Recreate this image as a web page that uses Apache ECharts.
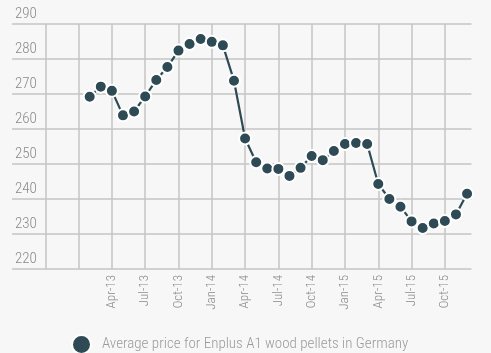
<!DOCTYPE html>
<html>
<head>
<meta charset="utf-8">
<script src="https://cdn.jsdelivr.net/npm/echarts@6/dist/echarts.min.js"></script>
<style>
  html, body { margin: 0; padding: 0; background: #f7f7f7; }
  #chart { width: 491px; height: 353px; }
</style>
</head>
<body>
<div id="chart"></div>
<script>
// monthly points, Feb-13 .. Dec-15
const months = [
  "Feb-13", "Mar-13", "Apr-13", "May-13", "Jun-13", "Jul-13", "Aug-13", "Sep-13", "Oct-13", "Nov-13", "Dec-13",
  "Jan-14", "Feb-14", "Mar-14", "Apr-14", "May-14", "Jun-14", "Jul-14", "Aug-14", "Sep-14", "Oct-14", "Nov-14", "Dec-14",
  "Jan-15", "Feb-15", "Mar-15", "Apr-15", "May-15", "Jun-15", "Jul-15", "Aug-15", "Sep-15", "Oct-15", "Nov-15", "Dec-15"
];
const prices = [
  269.2, 272.1, 270.9, 263.9, 265.0, 269.3, 274.0, 277.7, 282.4, 284.3, 285.7,
  284.9, 283.9, 273.8, 257.3, 250.5, 248.7, 248.6, 246.6, 248.9, 252.3, 251.1, 253.7,
  255.7, 256.0, 255.7, 244.3, 240.0, 237.8, 233.6, 231.7, 233.0, 233.7, 235.6, 241.5
];
// x axis ticks every 3 months starting Jul-12 (index 0)
const tickLabels = ["", "", "", "Apr-13", "Jul-13", "Oct-13", "Jan-14", "Apr-14", "Jul-14",
  "Oct-14", "Jan-15", "Apr-15", "Jul-15", "Oct-15"];
const seriesName = "Average price for Enplus A1 wood pellets in Germany";

const monNames = ["Jan", "Feb", "Mar", "Apr", "May", "Jun", "Jul", "Aug", "Sep", "Oct", "Nov", "Dec"];
function monthIndex(label) {
  const [m, y] = label.split("-");
  return (Number(y) - 12) * 12 + monNames.indexOf(m) - 6;
}

const font = "'Roboto Condensed', sans-serif";
const dark = "#2e4a55";

const chart = echarts.init(document.getElementById("chart"));
chart.setOption({
  backgroundColor: "#f7f7f7",
  animation: false,
  grid: { left: 12, right: 19.5, top: 24, bottom: 84 },
  legend: {
    data: [seriesName],
    left: 71,
    top: 334,
    padding: 0,
    icon: "circle",
    itemWidth: 19,
    itemHeight: 19,
    textStyle: { fontFamily: font, fontWeight: 300, fontSize: 15, color: "#9b9b9b", padding: [0, 0, 0, 6] }
  },
  xAxis: {
    type: "value",
    min: 0,
    max: 41.4,
    interval: 3,
    axisLine: { show: false },
    axisTick: { show: false },
    splitLine: { show: true, showMinLine: false, showMaxLine: false, lineStyle: { color: "#c4c4c4", width: 1.5 } },
    axisLabel: {
      rotate: 90,
      margin: 6,
      fontFamily: font,
      fontWeight: 300,
      fontSize: 13,
      color: "#8a8a8a",
      formatter: (v) => tickLabels[v / 3] || ""
    }
  },
  yAxis: {
    type: "value",
    min: 220,
    max: 290,
    interval: 10,
    axisLine: { show: false },
    axisTick: { show: false },
    splitLine: { lineStyle: { color: "#c4c4c4", width: 1.5 } },
    axisLabel: {
      inside: true,
      margin: 3,
      verticalAlign: "bottom",
      padding: [0, 0, 2, 0],
      fontFamily: font,
      fontWeight: 300,
      fontSize: 15,
      color: "#8a8a8a"
    }
  },
  series: [{
    name: seriesName,
    type: "line",
    data: months.map((m, i) => [monthIndex(m), prices[i]]),
    symbol: "circle",
    symbolSize: 12,
    lineStyle: { color: dark, width: 2.2 },
    itemStyle: { color: dark, borderColor: "#ffffff", borderWidth: 2 }
  }]
});
</script>
</body>
</html>
